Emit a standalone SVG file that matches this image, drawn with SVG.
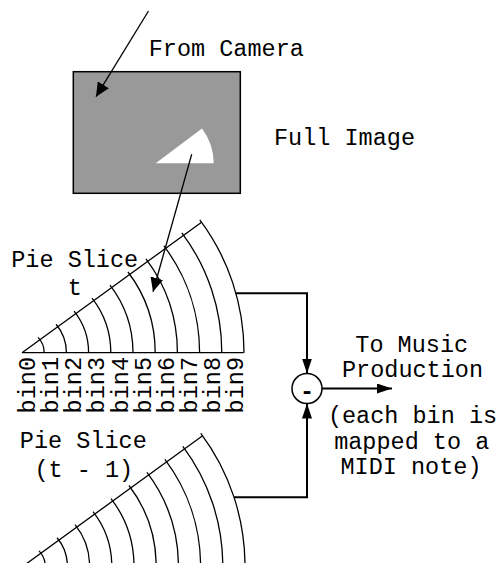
<svg xmlns="http://www.w3.org/2000/svg" width="500" height="563" viewBox="0 0 500 563">
<style>
text{font-family:"Liberation Mono","Courier New",monospace;font-size:23.5px;fill:#000}
.mid{text-anchor:middle}
.bin{text-anchor:end}
.thin{fill:none;stroke:#000;stroke-width:1.3}
.conn{fill:none;stroke:#000;stroke-width:2}
</style>
<defs>
<marker id="ah" markerUnits="userSpaceOnUse" markerWidth="15" markerHeight="10" refX="15" refY="5" orient="auto"><path d="M0,0 L15,5 L0,10 z" fill="#000"/></marker>
<marker id="ahs" markerUnits="userSpaceOnUse" markerWidth="14" markerHeight="13" refX="14" refY="6.5" orient="auto"><path d="M0,0 L14,6.5 L0,13 z" fill="#000"/></marker>
<g id="pie">
<path class="thin" d="M0,0 H221.7 M0,0 L179.6,-130.5"/>
<path class="thin" d="M22.2,0 A22.2,22.2 0 0 0 16.04,-15.35 M44.4,0 A44.4,44.4 0 0 0 34.08,-28.46 M66.6,0 A66.6,66.6 0 0 0 52.06,-41.53 M88.8,0 A88.8,88.8 0 0 0 70.03,-54.6 M111,0 A111,111 0 0 0 88,-67.65 M133.2,0 A133.2,133.2 0 0 0 105.97,-80.71 M155.4,0 A155.4,155.4 0 0 0 123.93,-93.75 M177.6,0 A177.6,177.6 0 0 0 141.89,-106.81 M199.8,0 A199.8,199.8 0 0 0 159.86,-119.86 M222,0 A222,222 0 0 0 177.82,-132.91"/>
</g>
</defs>

<g id="full-image">
<rect x="73.3" y="71.7" width="167" height="121.6" fill="#999999" stroke="#000" stroke-width="1.5"/>
<path d="M155.7,163.3 H213.7 A58,58 0 0 0 202,128.4 Z" fill="#fff"/>
<text class="mid" x="344.5" y="145">Full Image</text>
</g>

<g id="from-camera">
<text class="mid" x="226.3" y="56">From Camera</text>
</g>

<g id="pie-t">
<use href="#pie" transform="translate(22,352.7)"/>
<text class="mid" x="74.7" y="266.7">Pie Slice</text>
<text class="mid" x="74.7" y="295">t</text>
<text class="bin" transform="translate(35,357) rotate(-90)">bin0</text>
<text class="bin" transform="translate(58.15,357) rotate(-90)">bin1</text>
<text class="bin" transform="translate(81.3,357) rotate(-90)">bin2</text>
<text class="bin" transform="translate(104.45,357) rotate(-90)">bin3</text>
<text class="bin" transform="translate(127.6,357) rotate(-90)">bin4</text>
<text class="bin" transform="translate(150.75,357) rotate(-90)">bin5</text>
<text class="bin" transform="translate(173.9,357) rotate(-90)">bin6</text>
<text class="bin" transform="translate(197.05,357) rotate(-90)">bin7</text>
<text class="bin" transform="translate(220.2,357) rotate(-90)">bin8</text>
<text class="bin" transform="translate(243.35,357) rotate(-90)">bin9</text>
</g>

<g id="pie-t-1">
<use href="#pie" transform="translate(23,566.2)"/>
<text class="mid" x="83.3" y="448.3">Pie Slice</text>
<text class="mid" x="83.8" y="477">(t - 1)</text>
</g>

<g id="difference">
<circle cx="307" cy="388.5" r="15" fill="#fff" stroke="#000" stroke-width="1.5"/>
<text class="mid" x="307" y="399" style="font-weight:bold">-</text>
</g>

<g id="music-output">
<text class="mid" x="411.7" y="351.7">To Music</text>
<text class="mid" x="412.5" y="376.7">Production</text>
<text class="mid" x="412.5" y="423">(each bin is</text>
<text class="mid" x="411.7" y="449">mapped to a</text>
<text class="mid" x="411" y="474">MIDI note)</text>
</g>

<g id="connectors">
<path class="thin" d="M148.5,11 L96,96.7" marker-end="url(#ahs)"/>
<path class="thin" d="M191.7,154.3 L153,291.7" marker-end="url(#ahs)"/>
<path class="conn" d="M235.9,293.3 H307 V373.5" marker-end="url(#ah)"/>
<path class="conn" d="M234,497.3 H307 V403.5" marker-end="url(#ah)"/>
<path class="conn" d="M322,388.5 H392" marker-end="url(#ah)"/>
</g>
</svg>
